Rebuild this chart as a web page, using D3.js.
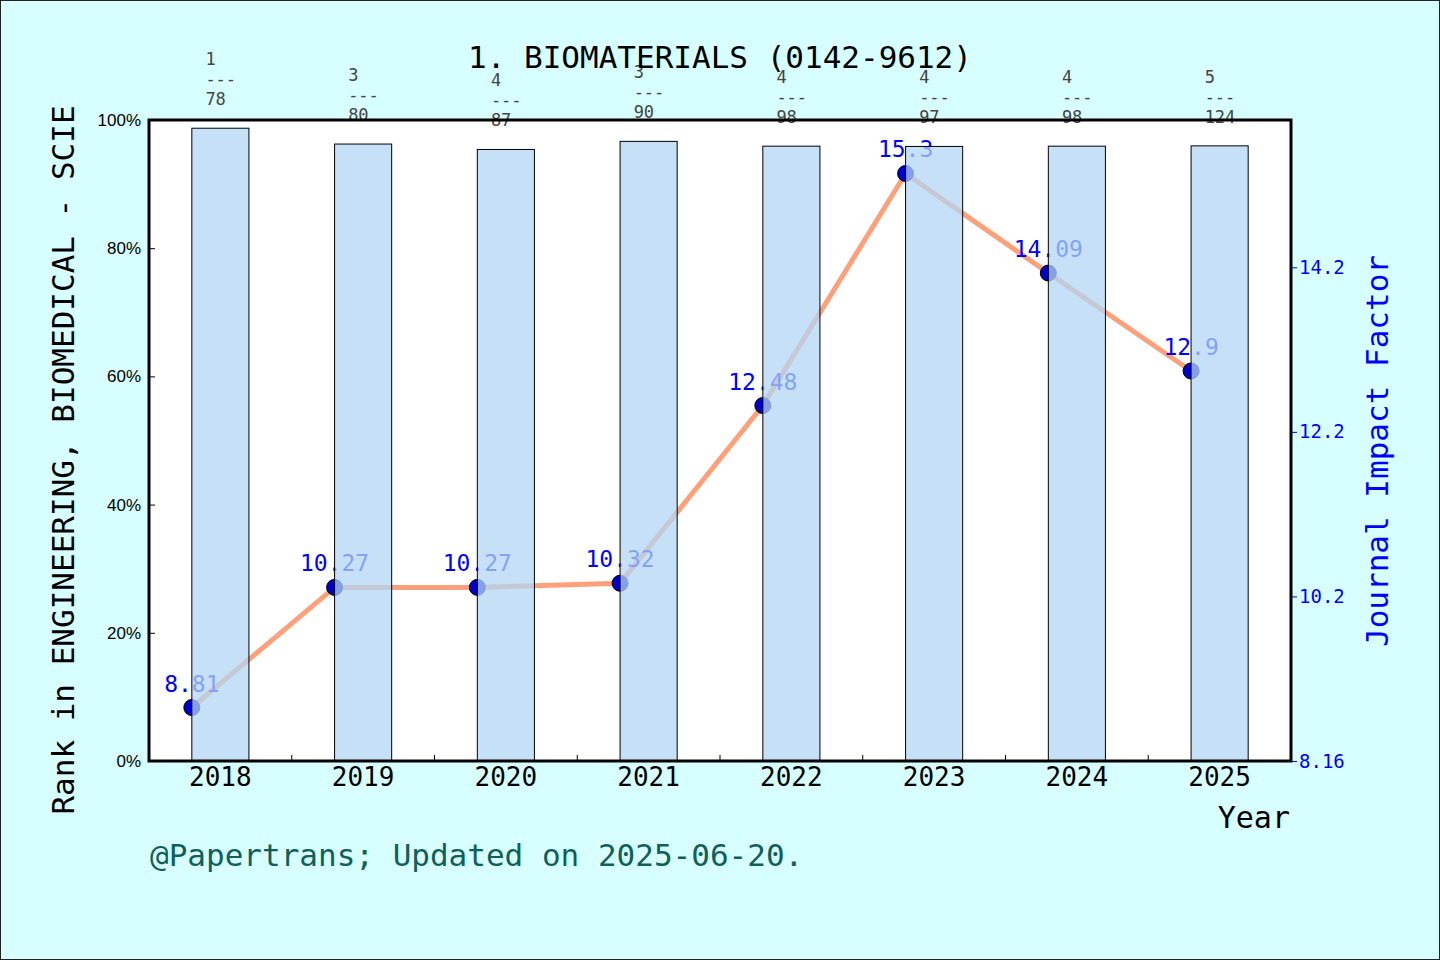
<!DOCTYPE html>
<html>
<head>
<meta charset="utf-8">
<script src="https://cdn.jsdelivr.net/npm/d3@7"></script>
<style>
  html, body { margin: 0; padding: 0; background: #D8FFFF; }
  svg { display: block; }
</style>
</head>
<body>
<div id="chart"></div>
<script>
// data
const years = ["2018", "2019", "2020", "2021", "2022", "2023", "2024", "2025"];
const ranks = [1, 3, 4, 3, 4, 4, 4, 5];
const totals = [78, 80, 87, 90, 98, 97, 98, 124];
const impactFactors = [8.81, 10.27, 10.27, 10.32, 12.48, 15.3, 14.09, 12.9];
const pctTicks = [0, 0.2, 0.4, 0.6, 0.8, 1.0];
const ifTicks = [8.16, 10.16, 12.16, 14.16];
const ifTickLabels = ["8.16", "10.2", "12.2", "14.2"];

const W = 1440, H = 960;
const plot = { left: 149, right: 1291, top: 120, bottom: 761 };
const mono = "'DejaVu Sans Mono', 'Liberation Mono', monospace";
const sans = "'Liberation Sans', Arial, sans-serif";

const svg = d3.select("#chart").append("svg")
    .attr("width", W)
    .attr("height", H);

// background + frame
svg.append("rect")
    .attr("x", 0.5).attr("y", 0.5)
    .attr("width", W - 1).attr("height", H - 1)
    .attr("fill", "#D8FFFF")
    .attr("stroke", "#222").attr("stroke-width", 1);

svg.append("rect")
    .attr("x", plot.left).attr("y", plot.top)
    .attr("width", plot.right - plot.left)
    .attr("height", plot.bottom - plot.top)
    .attr("fill", "white");

// scales
const x = d3.scaleBand()
    .domain(years)
    .range([plot.left, plot.right]);
const barW = x.bandwidth() * 0.4;

const yPct = d3.scaleLinear()
    .domain([0, 1])
    .range([plot.bottom, plot.top]);

const yIF = d3.scaleLinear()
    .domain([8.16, 15.95])
    .range([plot.bottom, plot.top]);

const rows = years.map((y, i) => ({
    year: y,
    rank: ranks[i],
    total: totals[i],
    pct: 1 - ranks[i] / totals[i],
    jif: impactFactors[i]
}));

// points sit on the left edge of each bar
const px = d => x(d.year) + x.bandwidth() / 2 - barW / 2;

// IF line
svg.append("path")
    .datum(rows)
    .attr("fill", "none")
    .attr("stroke", "#FFA07A")
    .attr("stroke-width", 5)
    .attr("d", d3.line().x(px).y(d => yIF(d.jif)));

svg.selectAll(".dot")
    .data(rows)
    .enter().append("circle")
    .attr("class", "dot")
    .attr("cx", px)
    .attr("cy", d => yIF(d.jif))
    .attr("r", 8)
    .attr("fill", "#0000CD")
    .attr("stroke", "black")
    .attr("stroke-width", 1);

svg.selectAll(".jif-label")
    .data(rows)
    .enter().append("text")
    .attr("class", "jif-label")
    .attr("x", px)
    .attr("y", d => yIF(d.jif) - 16)
    .attr("text-anchor", "middle")
    .style("font-family", mono)
    .style("font-size", "23px")
    .attr("fill", "#0000FF")
    .text(d => d.jif);

// bars go over the line, partly see-through
svg.selectAll(".bar")
    .data(rows)
    .enter().append("rect")
    .attr("class", "bar")
    .attr("x", d => x(d.year) + x.bandwidth() / 2 - barW / 2)
    .attr("y", d => yPct(d.pct))
    .attr("width", barW)
    .attr("height", d => plot.bottom - yPct(d.pct))
    .attr("fill", "rgb(178,214,244)")
    .attr("fill-opacity", 0.75)
    .attr("stroke", "black")
    .attr("stroke-width", 1);

// rank / total over each bar
const rankLabels = svg.selectAll(".rank-label")
    .data(rows)
    .enter().append("text")
    .attr("class", "rank-label")
    .style("font-family", mono)
    .style("font-size", "17px")
    .attr("fill", "#444");

rankLabels.each(function(d) {
    const t = d3.select(this);
    const x0 = x(d.year) + x.bandwidth() / 2 - 15;
    const base = yPct(d.pct) - 23;
    [String(d.rank), "---", String(d.total)].forEach((s, k) => {
        t.append("tspan")
            .attr("x", x0)
            .attr("y", base - (2 - k) * 20)
            .text(s);
    });
});

// left axis
const leftAxis = svg.append("g")
    .attr("transform", `translate(${plot.left},0)`)
    .call(d3.axisLeft(yPct)
        .tickValues(pctTicks)
        .tickFormat(d3.format(".0%"))
        .tickSize(-6)
        .tickPadding(8));
leftAxis.select(".domain").remove();
leftAxis.selectAll("line").attr("stroke", "black");
leftAxis.selectAll("text")
    .style("font-family", sans)
    .style("font-size", "17px")
    .attr("fill", "black");

// right axis
const rightAxis = svg.append("g")
    .attr("transform", `translate(${plot.right},0)`)
    .call(d3.axisRight(yIF)
        .tickValues(ifTicks)
        .tickFormat((d, i) => ifTickLabels[i])
        .tickSize(6)
        .tickPadding(2));
rightAxis.select(".domain").remove();
rightAxis.selectAll("line").attr("stroke", "#0000FF");
rightAxis.selectAll("text")
    .style("font-family", mono)
    .style("font-size", "19px")
    .attr("fill", "#0000FF");

// bottom axis: year labels + small inward ticks at band edges
const bottomAxis = svg.append("g")
    .attr("transform", `translate(0,${plot.bottom})`)
    .call(d3.axisBottom(x).tickSize(0).tickPadding(7));
bottomAxis.select(".domain").remove();
bottomAxis.selectAll("text")
    .style("font-family", mono)
    .style("font-size", "26px")
    .attr("fill", "black");

svg.selectAll(".minor-tick")
    .data(years.slice(0, -1))
    .enter().append("line")
    .attr("class", "minor-tick")
    .attr("x1", d => x(d) + x.bandwidth())
    .attr("x2", d => x(d) + x.bandwidth())
    .attr("y1", plot.bottom)
    .attr("y2", plot.bottom - 6)
    .attr("stroke", "black");

// plot frame
svg.append("rect")
    .attr("x", plot.left).attr("y", plot.top)
    .attr("width", plot.right - plot.left)
    .attr("height", plot.bottom - plot.top)
    .attr("fill", "none")
    .attr("stroke", "black")
    .attr("stroke-width", 3);

// titles
svg.append("text")
    .attr("x", 720).attr("y", 68)
    .attr("text-anchor", "middle")
    .style("font-family", mono)
    .style("font-size", "31px")
    .attr("fill", "black")
    .text("1. BIOMATERIALS (0142-9612)");

svg.append("text")
    .attr("transform", "translate(74,460) rotate(-90)")
    .attr("text-anchor", "middle")
    .style("font-family", mono)
    .style("font-size", "31px")
    .attr("fill", "black")
    .text("Rank in ENGINEERING, BIOMEDICAL - SCIE");

svg.append("text")
    .attr("transform", "translate(1388,451) rotate(-90)")
    .attr("text-anchor", "middle")
    .style("font-family", mono)
    .style("font-size", "31px")
    .attr("fill", "#0000FF")
    .text("Journal Impact Factor");

svg.append("text")
    .attr("x", 1290).attr("y", 828)
    .attr("text-anchor", "end")
    .style("font-family", mono)
    .style("font-size", "30px")
    .attr("fill", "black")
    .text("Year");

svg.append("text")
    .attr("x", 150).attr("y", 866)
    .style("font-family", mono)
    .style("font-size", "31px")
    .attr("fill", "#0E6058")
    .text("@Papertrans; Updated on 2025-06-20.");
</script>
</body>
</html>
